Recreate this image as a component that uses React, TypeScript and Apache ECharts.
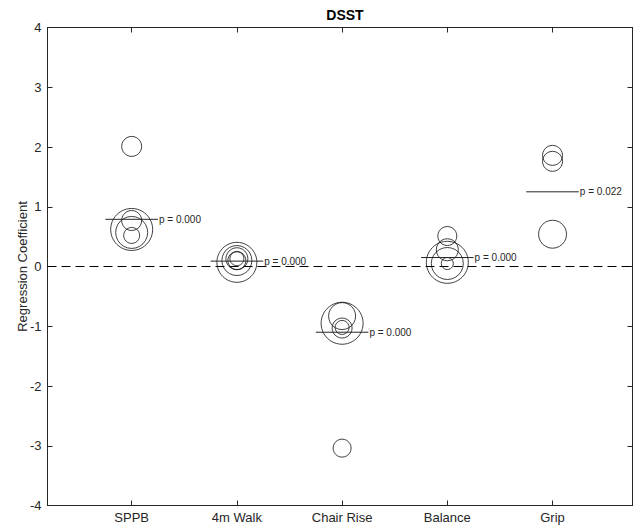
import React, { useEffect, useRef } from 'react';
import * as echarts from 'echarts';

// ---- data ----
const categories = ['SPPB', '4m Walk', 'Chair Rise', 'Balance', 'Grip'];
const categoryPositions = [1, 2, 3, 4, 5];

// study-level regression coefficients and relative study weights (bubble radius)
const sppbEstimates = [2.01, 0.77, 0.62, 0.57, 0.52];
const sppbWeights = [10, 10, 21, 16, 8];
const walkEstimates = [0.07, 0.1, 0.13, 0.1, 0.13];
const walkWeights = [20, 15, 11, 9, 7];
const chairEstimates = [-0.95, -0.83, -1.03, -1.02, -3.04];
const chairWeights = [21, 13.5, 10, 7, 9];
const balanceEstimates = [0.51, 0.28, 0.07, 0.05, 0.05];
const balanceWeights = [9.5, 11, 21, 16, 6];
const gripEstimates = [1.86, 1.76, 0.54];
const gripWeights = [10, 10, 14];

const pooledEstimates = [0.79, 0.09, -1.1, 0.15, 1.25];
const pValues = ['0.000', '0.000', '0.000', '0.000', '0.022'];

const yMin = -4;
const yMax = 4;
const yInterval = 1;

const FONT = '"Liberation Sans", Arial, Helvetica, sans-serif';
const AXIS_COLOR = '#262626';
const X_MIN = 0.2;
const X_MAX = 5.76;
const POOLED_HALF = 0.25;

export default function App() {
  const ref = useRef<HTMLDivElement>(null);

  useEffect(() => {
    if (!ref.current) return;
    const chart = echarts.init(ref.current, undefined, { renderer: 'svg' });

    const estimateGroups = [sppbEstimates, walkEstimates, chairEstimates, balanceEstimates, gripEstimates];
    const weightGroups = [sppbWeights, walkWeights, chairWeights, balanceWeights, gripWeights];

    const bubbleData: number[][] = [];
    estimateGroups.forEach((ests, i) => {
      ests.forEach((e, j) => {
        bubbleData.push([categoryPositions[i], e, weightGroups[i][j]]);
      });
    });

    const pooledSeries = pooledEstimates.map((est, i) => ({
      type: 'line',
      silent: true,
      symbol: 'none',
      data: [
        [categoryPositions[i] - POOLED_HALF, est],
        [categoryPositions[i] + POOLED_HALF, est],
      ],
      lineStyle: { color: '#262626', width: 1 },
      endLabel: {
        show: true,
        formatter: 'p = ' + pValues[i],
        distance: 1,
        color: AXIS_COLOR,
        fontSize: 10,
        fontFamily: FONT,
      },
      z: 4,
    }));

    const commonX = {
      type: 'value',
      min: X_MIN,
      max: X_MAX,
      splitLine: { show: false },
      axisLine: { show: true, onZero: false, lineStyle: { color: AXIS_COLOR, width: 1 } },
      axisTick: {
        show: true,
        inside: true,
        length: 5,
        customValues: categoryPositions,
        lineStyle: { color: AXIS_COLOR, width: 1 },
      },
    };
    const commonY = {
      type: 'value',
      min: yMin,
      max: yMax,
      interval: yInterval,
      splitLine: { show: false },
      axisLine: { show: true, onZero: false, lineStyle: { color: AXIS_COLOR, width: 1 } },
      axisTick: { show: true, inside: true, length: 5, lineStyle: { color: AXIS_COLOR, width: 1 } },
    };

    const option: any = {
      animation: false,
      backgroundColor: '#ffffff',
      title: {
        text: 'DSST',
        left: 340,
        top: 3,
        textAlign: 'center',
        textStyle: { fontFamily: FONT, fontSize: 14, fontWeight: 'bold', color: '#000' },
      },
      grid: { left: 47.5, right: 6.5, top: 27.5, bottom: 22.5 },
      xAxis: [
        {
          ...commonX,
          position: 'bottom',
          axisLabel: {
            show: true,
            customValues: categoryPositions,
            formatter: (v: number) => categories[Math.round(v) - 1] ?? '',
            color: AXIS_COLOR,
            fontSize: 13,
            fontFamily: FONT,
            margin: 5,
          },
        },
        { ...commonX, position: 'top', axisLabel: { show: false } },
      ],
      yAxis: [
        {
          ...commonY,
          position: 'left',
          name: 'Regression Coefficient',
          nameLocation: 'middle',
          nameRotate: 90,
          nameGap: 19,
          nameMoveOverlap: false,
          nameTextStyle: { color: AXIS_COLOR, fontSize: 13, fontFamily: FONT },
          axisLabel: { show: true, color: AXIS_COLOR, fontSize: 13, fontFamily: FONT, margin: 6 },
        },
        { ...commonY, position: 'right', axisLabel: { show: false } },
      ],
      series: [
        {
          type: 'line',
          silent: true,
          symbol: 'none',
          data: [
            [X_MIN, 0],
            [X_MAX, 0],
          ],
          lineStyle: { color: '#000', width: 1, type: [9, 5] },
          z: 2,
        },
        {
          type: 'scatter',
          silent: true,
          data: bubbleData,
          symbol: 'circle',
          symbolSize: (v: number[]) => v[2] * 2,
          itemStyle: { color: 'rgba(0,0,0,0)', borderColor: '#111', borderWidth: 1 },
          z: 3,
        },
        ...pooledSeries,
      ],
    };

    chart.setOption(option);
    return () => chart.dispose();
  }, []);

  return (
    <div
      ref={ref}
      style={{ position: 'absolute', left: 0, top: 0, width: 639, height: 528, background: '#fff' }}
    />
  );
}
